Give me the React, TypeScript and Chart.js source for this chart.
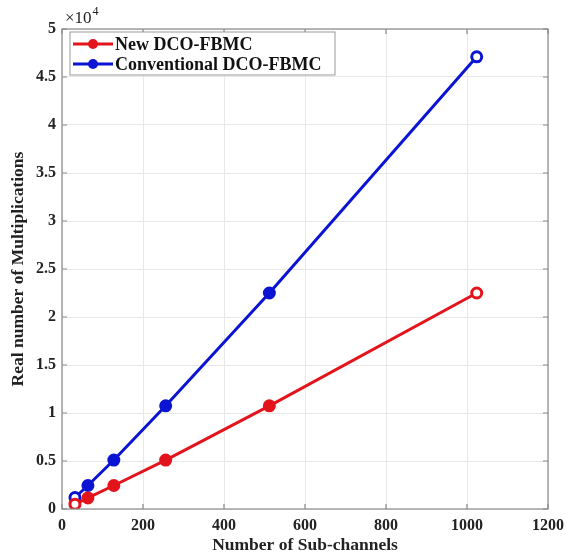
import React, { useEffect, useRef } from "react";
import { Chart, registerables } from "chart.js";
Chart.register(...registerables);

const subChannels = [32, 64, 128, 256, 512, 1024];
const newDco = [500, 1150, 2450, 5100, 10750, 22500];
const convDco = [1200, 2450, 5100, 10750, 22500, 47100];
const xTicks = [0, 200, 400, 600, 800, 1000, 1200];
const yTickLabels = ["0", "0.5", "1", "1.5", "2", "2.5", "3", "3.5", "4", "4.5", "5"];
const seriesNames = ["New DCO-FBMC", "Conventional DCO-FBMC"];
const RED = "#e4141c";
const BLUE = "#0a14d2";
const FONT = "'Liberation Serif', 'Times New Roman', serif";

export default function App() {
  const ref = useRef<HTMLCanvasElement>(null);
  useEffect(() => {
    document.body.style.margin = "0";
    const boxPlugin = {
      id: "box",
      afterDraw(chart: any) {
        const { ctx, chartArea: a, scales } = chart;
        ctx.save();
        ctx.strokeStyle = "#8a8a8a";
        ctx.lineWidth = 1.2;
        ctx.strokeRect(a.left, a.top, a.right - a.left, a.bottom - a.top);
        const tl = 5;
        ctx.beginPath();
        xTicks.forEach((v) => {
          const x = scales.x.getPixelForValue(v);
          ctx.moveTo(x, a.bottom); ctx.lineTo(x, a.bottom - tl);
          ctx.moveTo(x, a.top); ctx.lineTo(x, a.top + tl);
        });
        yTickLabels.forEach((_, i) => {
          const y = scales.y.getPixelForValue(i * 5000);
          ctx.moveTo(a.left, y); ctx.lineTo(a.left + tl, y);
          ctx.moveTo(a.right, y); ctx.lineTo(a.right - tl, y);
        });
        ctx.stroke();
        // exponent label
        ctx.fillStyle = "#222";
        ctx.font = `17px ${FONT}`;
        ctx.textBaseline = "alphabetic";
        ctx.textAlign = "left";
        ctx.fillText("\u00d710", a.left + 3, a.top - 6);
        const w = ctx.measureText("\u00d710").width;
        ctx.font = `12px ${FONT}`;
        ctx.fillText("4", a.left + 3 + w + 1, a.top - 14);
        // legend
        const lx = a.left + 8, ly = a.top + 3, lw = 265, lh = 43;
        ctx.fillStyle = "#fff";
        ctx.fillRect(lx, ly, lw, lh);
        ctx.strokeStyle = "#999";
        ctx.lineWidth = 1;
        ctx.strokeRect(lx, ly, lw, lh);
        const colors = [RED, BLUE];
        seriesNames.forEach((name, i) => {
          const cy = ly + 12 + i * 20;
          ctx.strokeStyle = colors[i];
          ctx.lineWidth = 3;
          ctx.beginPath();
          ctx.moveTo(lx + 3, cy); ctx.lineTo(lx + 43, cy);
          ctx.stroke();
          ctx.fillStyle = colors[i];
          ctx.beginPath();
          ctx.arc(lx + 23, cy, 5, 0, Math.PI * 2);
          ctx.fill();
          ctx.fillStyle = "#111";
          ctx.font = `bold 18px ${FONT}`;
          ctx.textBaseline = "middle";
          ctx.fillText(name, lx + 45, cy + 1);
        });
        ctx.restore();
      },
    };
    const mkBg = (c: string) => subChannels.map((_, i) => (i === 0 || i === subChannels.length - 1 ? "#ffffff" : c));
    const chart = new Chart(ref.current!, {
      type: "line",
      data: {
        datasets: [
          {
            label: seriesNames[0],
            data: subChannels.map((x, i) => ({ x, y: newDco[i] })),
            borderColor: RED,
            backgroundColor: mkBg(RED),
            pointBorderColor: RED,
            borderWidth: 3,
            pointRadius: 5,
            pointBorderWidth: 3,
          },
          {
            label: seriesNames[1],
            data: subChannels.map((x, i) => ({ x, y: convDco[i] })),
            borderColor: BLUE,
            backgroundColor: mkBg(BLUE),
            pointBorderColor: BLUE,
            borderWidth: 3,
            pointRadius: 5,
            pointBorderWidth: 3,
          },
        ],
      },
      options: {
        animation: false,
        responsive: false,
        layout: { padding: { left: 0, top: 29, right: 18, bottom: 0 } },
        plugins: { legend: { display: false }, tooltip: { enabled: false } },
        scales: {
          x: {
            type: "linear",
            min: 0,
            max: 1200,
            afterFit: (s: any) => { s.height = 44; s.paddingLeft = 0; s.paddingRight = 0; },
            afterBuildTicks: (s: any) => { s.ticks = xTicks.map((v) => ({ value: v })); },
            grid: { color: "#e8e8e8", drawTicks: false },
            border: { display: false },
            ticks: { color: "#222", font: { family: FONT, size: 16, weight: "bold" }, padding: 7, maxRotation: 0, callback: (v: any) => String(v) },
            title: { display: true, text: "Number of Sub-channels", color: "#222", font: { family: FONT, size: 17.5, weight: "bold" }, padding: { top: 0, bottom: -3 } },
          },
          y: {
            type: "linear",
            min: 0,
            max: 50000,
            afterFit: (s: any) => { s.width = 62; s.paddingTop = 0; s.paddingBottom = 0; },
            afterBuildTicks: (s: any) => { s.ticks = yTickLabels.map((_, i) => ({ value: i * 5000 })); },
            grid: { color: "#e8e8e8", drawTicks: false },
            border: { display: false },
            ticks: {
              color: "#222",
              font: { family: FONT, size: 16, weight: "bold" },
              padding: 6,
              callback: (v: any) => yTickLabels[Math.round(Number(v) / 5000)],
            },
            title: { display: true, text: "Real number of Multiplications", color: "#222", font: { family: FONT, size: 17.5, weight: "bold" }, padding: { top: 8, bottom: 0 } },
          },
        },
      },
      plugins: [boxPlugin],
    } as any);
    return () => chart.destroy();
  }, []);
  return (
    <div style={{ width: 566, height: 553 }}>
      <canvas ref={ref} width={566} height={553} style={{ display: "block" }} />
    </div>
  );
}
